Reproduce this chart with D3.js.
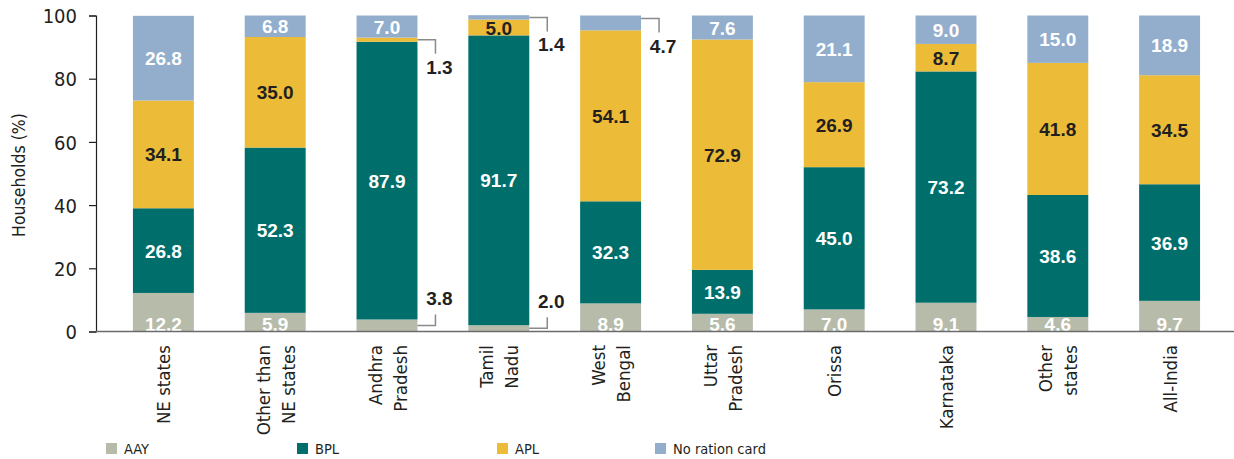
<!DOCTYPE html>
<html>
<head>
<meta charset="utf-8">
<script src="https://cdn.jsdelivr.net/npm/d3@7"></script>
<style>
  body { margin: 0; background: #fff; }
  svg { display: block; }
  text { font-family: "Liberation Sans Narrow", "DejaVu Sans Condensed", sans-serif; }
  .val { font-family: "Liberation Sans", Arial, sans-serif; font-weight: bold; }
</style>
</head>
<body>
<div id="wrapper"></div>
<script>
// categories (line breaks shown with |)
const categories = ["NE states", "Other than|NE states", "Andhra|Pradesh", "Tamil|Nadu", "West|Bengal",
  "Uttar|Pradesh", "Orissa", "Karnataka", "Other|states", "All-India"]
const seriesNames = ["AAY", "BPL", "APL", "No ration card"]
const aay      = [12.2, 5.9, 3.8, 2.0, 8.9, 5.6, 7.0, 9.1, 4.6, 9.7]
const bpl      = [26.8, 52.3, 87.9, 91.7, 32.3, 13.9, 45.0, 73.2, 38.6, 36.9]
const apl      = [34.1, 35.0, 1.3, 5.0, 54.1, 72.9, 26.9, 8.7, 41.8, 34.5]
const noCard   = [26.8, 6.8, 7.0, 1.4, 4.7, 7.6, 21.1, 9.0, 15.0, 18.9]
const yTicks   = [0, 20, 40, 60, 80, 100]
// small segments labelled outside the bar with a bracket
const callouts = [
  { cat: 2, key: "APL", where: "top" },
  { cat: 2, key: "AAY", where: "bottom" },
  { cat: 3, key: "No ration card", where: "top" },
  { cat: 3, key: "AAY", where: "bottom" },
  { cat: 4, key: "No ration card", where: "top" },
]

const colors = ["#b7bba9", "#006f6c", "#ecbb37", "#93aecd"]
const labelColors = ["#fff", "#fff", "#231f20", "#fff"]

const rows = categories.map((c, i) => ({
  cat: c, AAY: aay[i], BPL: bpl[i], APL: apl[i], "No ration card": noCard[i]
}))

const width = 1234, height = 459
const svg = d3.select("#wrapper").append("svg")
  .attr("width", width).attr("height", height)

const x = d3.scaleBand()
  .domain(categories)
  .range([107.5, 1225.5])
  .paddingInner(0.455)
  .paddingOuter(0.2275)

const y = d3.scaleLinear()
  .domain([0, 100])
  .range([331.5, 15.5])

const stack = d3.stack().keys(seriesNames)(rows)

// bars
const layers = svg.append("g").selectAll("g")
  .data(stack)
  .join("g")
    .attr("fill", (d, i) => colors[i])

layers.selectAll("rect")
  .data(d => d)
  .join("rect")
    .attr("x", d => x(d.data.cat))
    .attr("y", d => y(d[1]))
    .attr("width", x.bandwidth())
    .attr("height", d => y(d[0]) - y(d[1]))

// value labels inside bars
const calloutSet = new Set(callouts.map(c => c.cat + "|" + c.key))
stack.forEach((layer, si) => {
  svg.append("g").selectAll("text")
    .data(layer.map((d, ci) => ({ d, ci })).filter(o => !calloutSet.has(o.ci + "|" + layer.key)))
    .join("text")
      .attr("class", "val")
      .attr("x", o => x(o.d.data.cat) + x.bandwidth() / 2)
      .attr("y", o => si === 0 ? y(0) - 1 : (y(o.d[0]) + y(o.d[1])) / 2 + 7)
      .attr("text-anchor", "middle")
      .attr("fill", labelColors[si])
      .style("font-size", "19px")
      .text(o => o.d.data[layer.key].toFixed(1))
})

// bracket callouts
const cg = svg.append("g")
callouts.forEach(c => {
  const si = seriesNames.indexOf(c.key)
  const seg = stack[si][c.cat]
  const x0 = x(categories[c.cat]) + x.bandwidth()
  const x1 = x0 + 18
  let yl, y2, ty
  if (c.where === "top") {
    yl = Math.min((y(seg[0]) + y(seg[1])) / 2, y(seg[1]) + 3)
    y2 = yl + 14
    ty = y2 + 20
  } else {
    yl = (y(seg[0]) + y(seg[1])) / 2
    y2 = yl - 11
    ty = y2 - 9
  }
  cg.append("path")
    .attr("d", `M${x0},${yl}H${x1}V${y2}`)
    .attr("fill", "none")
    .attr("stroke", "#8a8a8a")
    .attr("stroke-width", 1.5)
  cg.append("text")
    .attr("class", "val")
    .attr("x", x1 + 4)
    .attr("y", ty)
    .attr("text-anchor", "middle")
    .attr("fill", "#231f20")
    .style("font-size", "19px")
    .text(rows[c.cat][c.key].toFixed(1))
})

// y axis
const yAxis = svg.append("g")
  .attr("transform", "translate(96,0)")
  .call(d3.axisLeft(y).tickValues(yTicks).tickSize(7).tickPadding(12))
yAxis.select(".domain").attr("stroke", "#231f20").attr("stroke-width", 1.2)
yAxis.selectAll(".tick line").attr("stroke", "#231f20").attr("stroke-width", 1.2)
yAxis.selectAll(".tick text")
  .attr("fill", "#231f20")
  .attr("dy", "0.36em")
  .style("font-size", "20px")
  .style("font-family", "'Liberation Sans Narrow', 'DejaVu Sans Condensed', sans-serif")

svg.append("text")
  .attr("transform", "translate(25,175) rotate(-90)")
  .attr("text-anchor", "middle")
  .attr("fill", "#231f20")
  .style("font-size", "17.5px")
  .text("Households (%)")

// x axis baseline
svg.append("line")
  .attr("x1", 96).attr("x2", width)
  .attr("y1", y(0)).attr("y2", y(0))
  .attr("stroke", "#6b6b6b").attr("stroke-width", 1.5)

// category labels, rotated
const catG = svg.append("g").selectAll("g")
  .data(categories)
  .join("g")
    .attr("transform", d => `translate(${x(d) + x.bandwidth() / 2},345) rotate(-90)`)
catG.each(function (d) {
  const lines = d.split("|")
  const n = lines.length
  d3.select(this).selectAll("text")
    .data(lines)
    .join("text")
      .attr("text-anchor", "end")
      .attr("x", 0)
      .attr("y", (l, i) => (i - (n - 1) / 2) * 25 + 7)
      .attr("fill", "#231f20")
      .style("font-size", "18.5px")
      .text(l => l)
})

// legend
const legendX = [106, 297, 497, 655]
const legend = svg.append("g").selectAll("g")
  .data(seriesNames)
  .join("g")
    .attr("transform", (d, i) => `translate(${legendX[i]},443)`)
legend.append("rect")
  .attr("width", 11).attr("height", 11)
  .attr("fill", (d, i) => colors[i])
legend.append("text")
  .attr("x", 18).attr("y", 11)
  .attr("fill", "#231f20")
  .style("font-size", "14.5px")
  .text(d => d)
</script>
</body>
</html>
